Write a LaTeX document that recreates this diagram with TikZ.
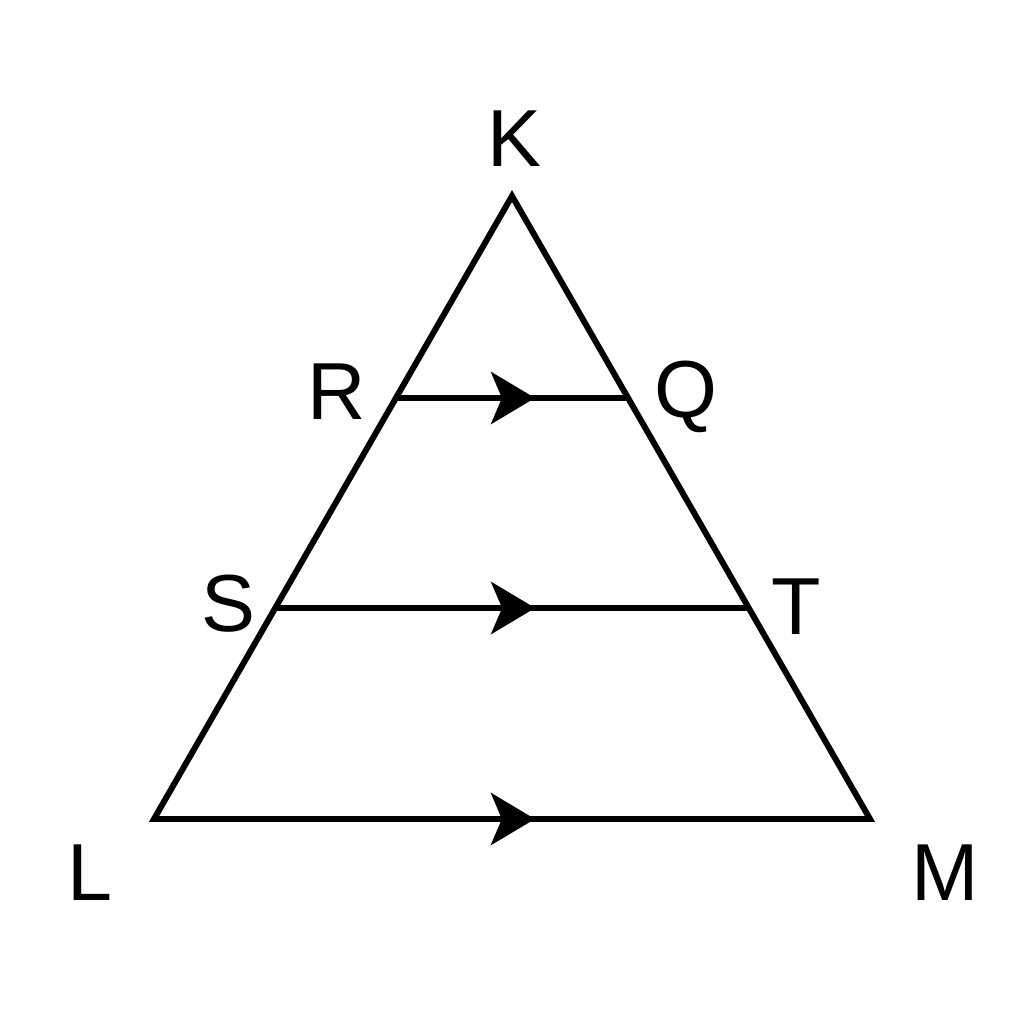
\documentclass[tikz,border=0pt]{standalone}
\usepackage{fontspec}
\setmainfont{Liberation Sans}
\usetikzlibrary{arrows.meta,decorations.markings}
\tikzset{
  edge/.style={line width=1.7pt, line join=miter},
  lbl/.style={inner sep=0pt, font=\fontsize{23}{27}\selectfont},
  parmark/.style={postaction={decorate}, decoration={markings,
     mark=at position #1 with {\arrow{Stealth[length=12.5pt,width=14.8pt,inset=3.1pt]}}}}
}
\begin{document}
\begin{tikzpicture}[x=0.01cm,y=-0.01cm]
\useasboundingbox (0,0) rectangle (1024,1024);
\coordinate (K) at (512,196);
\coordinate (L) at (154,819);
\coordinate (M) at (870,819);
\coordinate (R) at (397,398);
\coordinate (Q) at (627,398);
\coordinate (S) at (276,608);
\coordinate (T) at (748,608);
\draw[edge] (K) -- (L) -- (M) -- cycle;
\draw[edge, parmark=0.6] (R) -- (Q);
\draw[edge, parmark=0.549] (S) -- (T);
\draw[edge, parmark=0.532] (L) -- (M);
\node[lbl] (lK) at (514,139) {K};
\node[lbl] (lR) at (337,392) {R};
\node[lbl] (lQ) at (686,397) {Q};
\node[lbl] (lS) at (228,604) {S};
\node[lbl] (lT) at (796,607) {T};
\node[lbl] (lL) at (90,873) {L};
\node[lbl] (lM) at (945,873) {M};
\end{tikzpicture}
\end{document}
